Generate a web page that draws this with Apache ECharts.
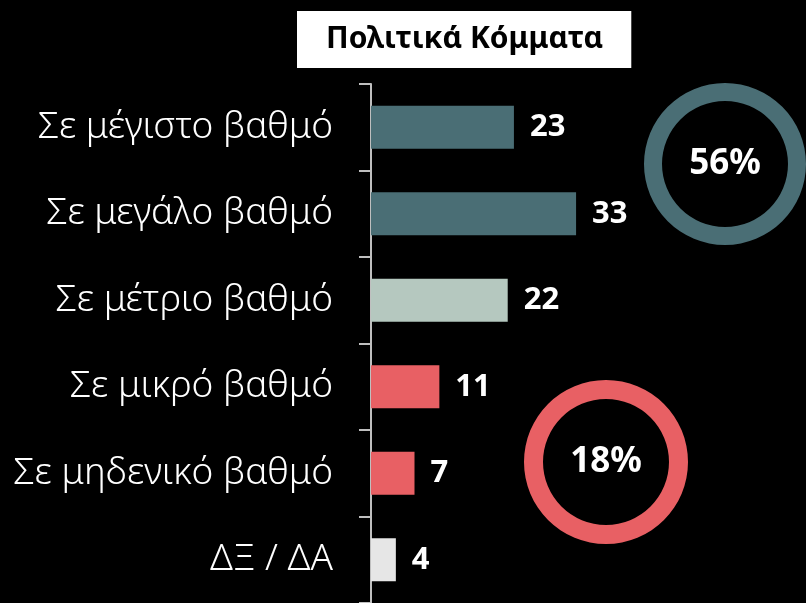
<!DOCTYPE html>
<html>
<head>
<meta charset="utf-8">
<script src="https://cdn.jsdelivr.net/npm/echarts@6/dist/echarts.min.js"></script>
<style>
    html, body { margin: 0; padding: 0; background: #000; }
    #chart { width: 806px; height: 603px; }
</style>
</head>
<body>
<div id="chart"></div>
<script>
// δεδομένα
var categories = ['Σε μέγιστο βαθμό', 'Σε μεγάλο βαθμό', 'Σε μέτριο βαθμό', 'Σε μικρό βαθμό', 'Σε μηδενικό βαθμό', 'ΔΞ / ΔΑ'];
var values = [23, 33, 22, 11, 7, 4];
var barColors = ['#4a6e75', '#4a6e75', '#b5c8bf', '#e86064', '#e86064', '#e6e6e6'];
var highShare = [56];
var lowShare = [18];

var chart = echarts.init(document.getElementById('chart'));

var option = {
    backgroundColor: '#000',
    animation: false,
    title: {
        text: 'Πολιτικά Κόμματα',
        left: 297,
        top: 11,
        padding: [13, 28, 14, 29],
        backgroundColor: '#fff',
        textStyle: {
            color: '#000',
            fontSize: 30,
            fontWeight: 'bold',
            fontFamily: 'Noto Sans'
        }
    },
    grid: {
        left: 371,
        right: 0,
        top: 84,
        bottom: -1
    },
    xAxis: {
        type: 'value',
        min: 0,
        max: 70,
        show: false
    },
    yAxis: {
        type: 'category',
        inverse: true,
        data: categories,
        axisLine: {
            lineStyle: { color: '#bfbfbf', width: 2 }
        },
        axisTick: {
            show: true,
            length: 12,
            lineStyle: { color: '#bfbfbf', width: 2 }
        },
        axisLabel: {
            margin: 38,
            color: '#fff',
            fontSize: 37,
            fontWeight: 300,
            fontFamily: 'Noto Sans'
        }
    },
    series: [{
        type: 'bar',
        barWidth: 43,
        data: values.map(function (v, i) {
            return { value: v, itemStyle: { color: barColors[i] } };
        }),
        label: {
            show: true,
            position: 'right',
            distance: 16,
            color: '#fff',
            fontSize: 31,
            fontWeight: 'bold',
            fontFamily: 'Noto Sans'
        }
    }, {
        type: 'pie',
        center: [725, 164],
        radius: [63, 81],
        silent: true,
        itemStyle: { color: '#4a6e75' },
        label: {
            position: 'center',
            formatter: '{c}%',
            color: '#fff',
            fontSize: 35,
            fontWeight: 'bold',
            fontFamily: 'Noto Sans'
        },
        data: highShare.map(function (v) { return { value: v }; })
    }, {
        type: 'pie',
        center: [606, 462],
        radius: [63, 82],
        silent: true,
        itemStyle: { color: '#e86064' },
        label: {
            position: 'center',
            formatter: '{c}%',
            color: '#fff',
            fontSize: 35,
            fontWeight: 'bold',
            fontFamily: 'Noto Sans'
        },
        data: lowShare.map(function (v) { return { value: v }; })
    }]
};
chart.setOption(option);
</script>
</body>
</html>
